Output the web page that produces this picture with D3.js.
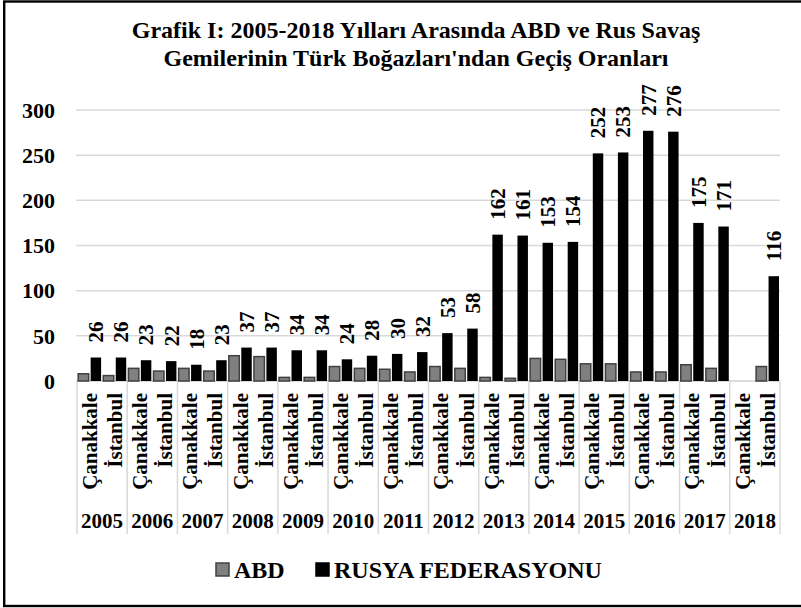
<!DOCTYPE html>
<html>
<head>
<meta charset="utf-8">
<script src="https://cdn.jsdelivr.net/npm/d3@7"></script>
<style>
	body { margin: 0; background: #fff; }
	svg { display: block; }
	text { font-family: "Liberation Serif", "Times New Roman", serif; font-weight: bold; fill: #000; }
</style>
</head>
<body>
<div id="chart"></div>
<script>
var years = ['2005', '2006', '2007', '2008', '2009', '2010', '2011', '2012', '2013', '2014', '2015', '2016', '2017', '2018'];
var straits = ['Çanakkale', 'İstanbul'];
var seriesNames = ['ABD', 'RUSYA FEDERASYONU'];
// one value per year x strait, in year order (Çanakkale, İstanbul)
var abd = [8, 6, 14, 11, 14, 11, 28, 27, 4, 4, 16, 14, 13, 10, 16, 14, 4, 3, 25, 24, 19, 19, 10, 10, 18, 14, null, 16];
var rusya = [26, 26, 23, 22, 18, 23, 37, 37, 34, 34, 24, 28, 30, 32, 53, 58, 162, 161, 153, 154, 252, 253, 277, 276, 175, 171, null, 116];
var yTicks = [0, 50, 100, 150, 200, 250, 300];
var titleLines = ['Grafik I: 2005-2018 Yılları Arasında ABD ve Rus Savaş', 'Gemilerinin Türk Boğazları\'ndan Geçiş Oranları'];

(function(){
	var W = 801, H = 608;
	// plot area (window.top is reserved, so no "top" here)
	var pLeft = 77, pRight = 780, pTop = 110, pBottom = 381;

	var rows = [];
	years.forEach(function(yr, i){
		straits.forEach(function(s, j){
			var k = i * 2 + j;
			rows.push({key: yr + '-' + s, year: yr, strait: s, abd: abd[k], rusya: rusya[k]});
		});
	});

	var svg = d3.select('#chart').append('svg')
		.attr('width', W)
		.attr('height', H);

	var x = d3.scaleBand().domain(rows.map(function(d){ return d.key; })).range([pLeft, pRight]).padding(0);
	var xYear = d3.scaleBand().domain(years).range([pLeft, pRight]).padding(0);
	var x1 = d3.scaleBand().domain(['abd', 'rusya']).range([1.2, x.bandwidth() - 1]).paddingInner(0.16);
	var y = d3.scaleLinear().domain([0, 300]).range([pBottom, pTop]);

	// gridlines
	svg.append('g').selectAll('line')
		.data(yTicks)
		.enter().append('line')
		.attr('x1', pLeft - 1).attr('x2', pRight)
		.attr('y1', function(d){ return y(d); })
		.attr('y2', function(d){ return y(d); })
		.attr('stroke', '#d9d9d9')
		.attr('stroke-width', 1.5);

	// y labels
	svg.append('g').selectAll('text')
		.data(yTicks)
		.enter().append('text')
		.attr('x', 55)
		.attr('y', function(d){ return y(d); })
		.attr('dy', '0.35em')
		.attr('text-anchor', 'end')
		.style('font-size', '22px')
		.text(function(d){ return d; });

	// category box lines
	svg.append('g').selectAll('line')
		.data(years.concat(['end']))
		.enter().append('line')
		.attr('x1', function(d){ return d == 'end' ? pRight : xYear(d); })
		.attr('x2', function(d){ return d == 'end' ? pRight : xYear(d); })
		.attr('y1', pBottom).attr('y2', 534)
		.attr('stroke', '#d9d9d9')
		.attr('stroke-width', 1.5);

	// axis line
	svg.append('line')
		.attr('x1', pLeft).attr('x2', pRight)
		.attr('y1', pBottom).attr('y2', pBottom)
		.attr('stroke', '#d9d9d9')
		.attr('stroke-width', 1.5);

	// bars
	var g = svg.append('g').selectAll('g')
		.data(rows)
		.enter().append('g')
		.attr('transform', function(d){ return 'translate(' + x(d.key) + ',0)'; });

	g.filter(function(d){ return d.abd != null; })
		.append('rect')
		.attr('x', x1('abd'))
		.attr('width', x1.bandwidth())
		.attr('y', function(d){ return y(d.abd); })
		.attr('height', function(d){ return pBottom - y(d.abd); })
		.attr('fill', '#808080')
		.attr('stroke', '#404040')
		.attr('stroke-width', 1.5);

	g.filter(function(d){ return d.rusya != null; })
		.append('rect')
		.attr('x', x1('rusya'))
		.attr('width', x1.bandwidth())
		.attr('y', function(d){ return y(d.rusya); })
		.attr('height', function(d){ return pBottom - y(d.rusya); })
		.attr('fill', '#000');

	// value labels on the russian bars
	g.filter(function(d){ return d.rusya != null; })
		.append('text')
		.attr('transform', function(d){
			return 'translate(' + (x1('rusya') + x1.bandwidth() / 2) + ',' + (y(d.rusya) - 15) + ') rotate(-90)';
		})
		.attr('dy', '0.35em')
		.style('font-size', '21px')
		.text(function(d){ return d.rusya; });

	// strait labels
	g.append('text')
		.attr('transform', function(d){ return 'translate(' + (x.bandwidth() / 2) + ',393) rotate(-90)'; })
		.attr('dy', '0.35em')
		.attr('text-anchor', 'end')
		.style('font-size', '21px')
		.text(function(d){ return d.strait; });

	// year labels
	svg.append('g').selectAll('text')
		.data(years)
		.enter().append('text')
		.attr('x', function(d){ return xYear(d) + xYear.bandwidth() / 2; })
		.attr('y', 528)
		.attr('text-anchor', 'middle')
		.style('font-size', '21px')
		.text(function(d){ return d; });

	// title
	svg.append('g').selectAll('text')
		.data(titleLines)
		.enter().append('text')
		.attr('x', 416)
		.attr('y', function(d, i){ return 38 + i * 28; })
		.attr('text-anchor', 'middle')
		.style('font-size', '24px')
		.text(function(d){ return d; });

	// legend
	var legendX = [216, 316];
	var legend = svg.append('g').selectAll('g')
		.data(seriesNames)
		.enter().append('g')
		.attr('transform', function(d, i){ return 'translate(' + legendX[i] + ',563)'; });
	legend.append('rect')
		.attr('width', 13).attr('height', 13)
		.attr('fill', function(d, i){ return i == 0 ? '#808080' : '#000'; })
		.attr('stroke', function(d, i){ return i == 0 ? '#404040' : '#000'; })
		.attr('stroke-width', 1.5);
	legend.append('text')
		.attr('x', 18)
		.attr('y', 15)
		.style('font-size', '24px')
		.text(function(d){ return d; });

	// frame
	svg.append('rect')
		.attr('x', 4.2).attr('y', 1.5)
		.attr('width', 900).attr('height', 604.5)
		.attr('fill', 'none')
		.attr('stroke', '#000')
		.attr('stroke-width', 2.4);
})();
</script>
</body>
</html>
